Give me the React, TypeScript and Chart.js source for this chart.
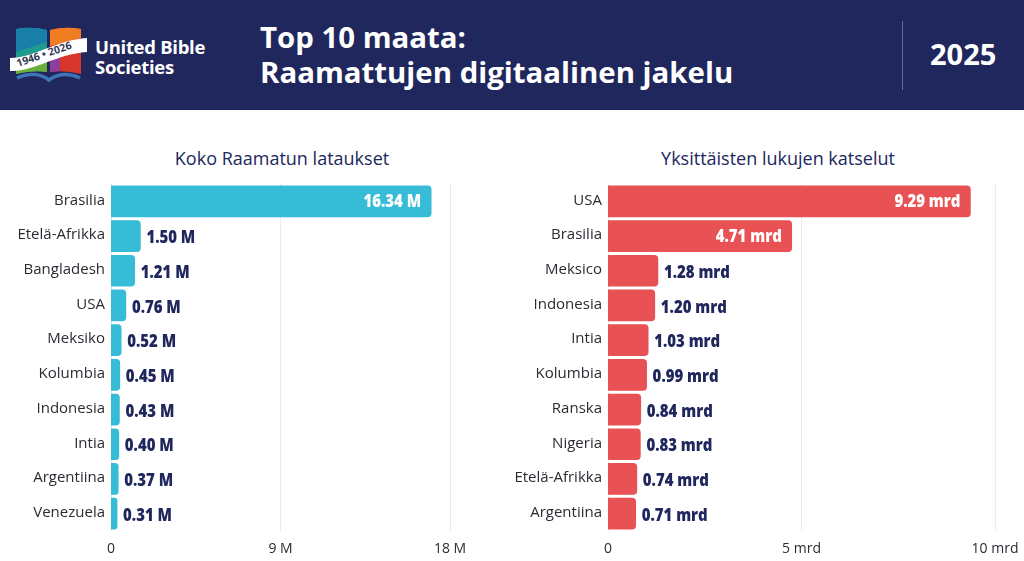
import { useEffect, useRef } from 'react';
import Chart from 'chart.js/auto';

const leftCategories = ['Brasilia', 'Etelä-Afrikka', 'Bangladesh', 'USA', 'Meksiko', 'Kolumbia', 'Indonesia', 'Intia', 'Argentiina', 'Venezuela'];
const leftValues = [16.34, 1.5, 1.21, 0.76, 0.52, 0.45, 0.43, 0.4, 0.37, 0.31];
const leftTicks = [0, 9, 18];

const rightCategories = ['USA', 'Brasilia', 'Meksico', 'Indonesia', 'Intia', 'Kolumbia', 'Ranska', 'Nigeria', 'Etelä-Afrikka', 'Argentiina'];
const rightValues = [9.29, 4.71, 1.28, 1.2, 1.03, 0.99, 0.84, 0.83, 0.74, 0.71];
const rightTicks = [0, 5, 10];

const NAVY = '#20275d';
const FONT = '"Open Sans", "Noto Sans", sans-serif';

interface PanelProps {
  title: string;
  titleCenter: number;
  categories: string[];
  values: number[];
  ticks: number[];
  color: string;
  unit: string;
  insideFrom: number;
  barMax: number;
  left: number;
  width: number;
  axisWidth: number;
  padRight: number;
}

function Panel({ title, titleCenter, categories, values, ticks, color, unit, insideFrom, barMax, left, width, axisWidth, padRight }: PanelProps) {
  const ref = useRef<HTMLCanvasElement>(null);

  useEffect(() => {
    if (!ref.current) return;

    const tickFormat = (v: number) => (v === 0 ? '0' : `${v} ${unit}`);

    // value labels sit inside the long bars and right after the short ones
    const valueLabels = {
      id: 'valueLabels',
      afterDatasetsDraw(chart: Chart) {
        const ctx = chart.ctx;
        const bars = chart.getDatasetMeta(0).data;
        ctx.save();
        ctx.font = `800 18px ${FONT}`;
        ctx.textBaseline = 'middle';
        bars.forEach((bar: any, i: number) => {
          const text = `${values[i].toFixed(2)} ${unit}`;
          // the reference uses a condensed face, so squeeze the text
          const w = ctx.measureText(text).width * 0.83;
          if (values[i] >= insideFrom) {
            ctx.fillStyle = '#ffffff';
            ctx.textAlign = 'right';
            ctx.fillText(text, bar.x - 10, bar.y + 1, w);
          } else {
            ctx.fillStyle = NAVY;
            ctx.textAlign = 'left';
            ctx.fillText(text, bar.x + 6, bar.y + 2, w);
          }
        });
        ctx.restore();
      },
    };

    const chart = new Chart(ref.current, {
      type: 'bar',
      data: {
        labels: categories,
        datasets: [
          {
            data: values,
            xAxisID: 'xBars',
            backgroundColor: color,
            borderRadius: 4,
            barThickness: 31,
          },
        ],
      },
      options: {
        indexAxis: 'y',
        animation: false,
        responsive: false,
        layout: { padding: { top: 0, right: padRight, bottom: 0, left: 0 } },
        plugins: { legend: { display: false }, tooltip: { enabled: false } },
        scales: {
          y: {
            grid: { display: false, drawTicks: false },
            border: { display: false },
            ticks: { color: '#2b2b33', font: { family: FONT, size: 15 }, padding: 6, labelOffset: -1 },
            afterFit: (scale: any) => {
              scale.width = axisWidth;
            },
          },
          x: {
            position: 'bottom',
            min: ticks[0],
            max: ticks[ticks.length - 1],
            afterBuildTicks: (scale: any) => {
              scale.ticks = ticks.map((value) => ({ value }));
            },
            grid: { color: '#ecebe6', lineWidth: 1, drawTicks: false },
            border: { display: false },
            ticks: {
              color: '#2b2b33',
              font: { family: FONT, size: 14 },
              padding: 10,
              maxRotation: 0,
              callback: (v: any) => tickFormat(Number(v)),
            },
            afterFit: (scale: any) => {
              scale.height = 30;
            },
          },
          // the bars in the picture run a little longer than the printed axis
          xBars: { display: false, min: 0, max: barMax },
        },
      },
      plugins: [valueLabels],
    });

    return () => chart.destroy();
  }, []);

  return (
    <>
      <div
        style={{
          position: 'absolute',
          left: titleCenter - 200,
          width: 400,
          top: 146,
          textAlign: 'center',
          fontSize: 18,
          lineHeight: '24px',
          color: NAVY,
        }}
      >
        {title}
      </div>
      <canvas ref={ref} width={width} height={392} style={{ position: 'absolute', left, top: 169, display: 'block' }} />
    </>
  );
}

function Logo() {
  return (
    <svg width={92} height={90} viewBox="0 0 92 90" style={{ position: 'absolute', left: 0, top: 0 }}>
      <path d="M16 29 Q32 26 47 30 L47 72 Q32 70 16 74 Z" fill="#1f9a8e" />
      <path d="M16 29 Q32 26 47 30 L47 42 L16 52 Z" fill="#1a7fa8" />
      <path d="M16 62 L30 58 L47 58 L47 72 Q32 70 16 74 Z" fill="#6cae3a" />
      <path d="M50 30 Q65 26 81 29 L81 74 Q65 70 50 72 Z" fill="#d8352c" />
      <path d="M50 30 Q65 26 81 29 L81 38 L50 46 Z" fill="#ef7d22" />
      <path d="M50 58 L60 54 L60 71 L50 72 Z" fill="#8d3f9e" />
      <path d="M10 58 C 34 58, 56 40, 87 38 L87 52 C 56 54, 34 72, 10 71 Z" fill="#ffffff" />
      <text x="0" y="0" fontSize="10.5" fontWeight="bold" fill="#333a55" fontFamily={FONT} transform="translate(18 67) rotate(-19)">
        1946 • 2026
      </text>
      <path d="M17 78 C 28 73, 40 73, 49 80 C 58 73, 70 73, 80 78" fill="none" stroke="#3f74b8" strokeWidth={3.5} />
    </svg>
  );
}

export default function App() {
  useEffect(() => {
    document.body.style.margin = '0';
  }, []);

  return (
    <div style={{ position: 'relative', width: 1024, height: 561, background: '#ffffff', overflow: 'hidden', fontFamily: FONT }}>
      <div style={{ position: 'absolute', left: 0, top: 0, width: 1024, height: 110, background: NAVY }} />
      <Logo />
      <div style={{ position: 'absolute', left: 95, top: 37, color: '#fff', fontSize: 18.5, fontWeight: 700, lineHeight: '19.5px', letterSpacing: -0.3 }}>
        United Bible
        <br />
        Societies
      </div>
      <div style={{ position: 'absolute', left: 260, top: 20, color: '#fff', fontSize: 29.4, fontWeight: 700, lineHeight: '35px', whiteSpace: 'nowrap' }}>
        Top 10 maata:
        <br />
        Raamattujen digitaalinen jakelu
      </div>
      <div style={{ position: 'absolute', left: 902, top: 21, width: 1, height: 69, background: '#666c92' }} />
      <div style={{ position: 'absolute', left: 930, top: 35, color: '#fff', fontSize: 29, fontWeight: 700, lineHeight: '38px' }}>2025</div>
      <Panel
        title="Koko Raamatun lataukset"
        titleCenter={282}
        categories={leftCategories}
        values={leftValues}
        ticks={leftTicks}
        color="#37bcd8"
        unit="M"
        insideFrom={10}
        barMax={17.3}
        left={0}
        width={500}
        axisWidth={111}
        padRight={50}
      />
      <Panel
        title="Yksittäisten lukujen katselut"
        titleCenter={778}
        categories={rightCategories}
        values={rightValues}
        ticks={rightTicks}
        color="#e85255"
        unit="mrd"
        insideFrom={4}
        barMax={9.92}
        left={490}
        width={560}
        axisWidth={118}
        padRight={55}
      />
    </div>
  );
}
